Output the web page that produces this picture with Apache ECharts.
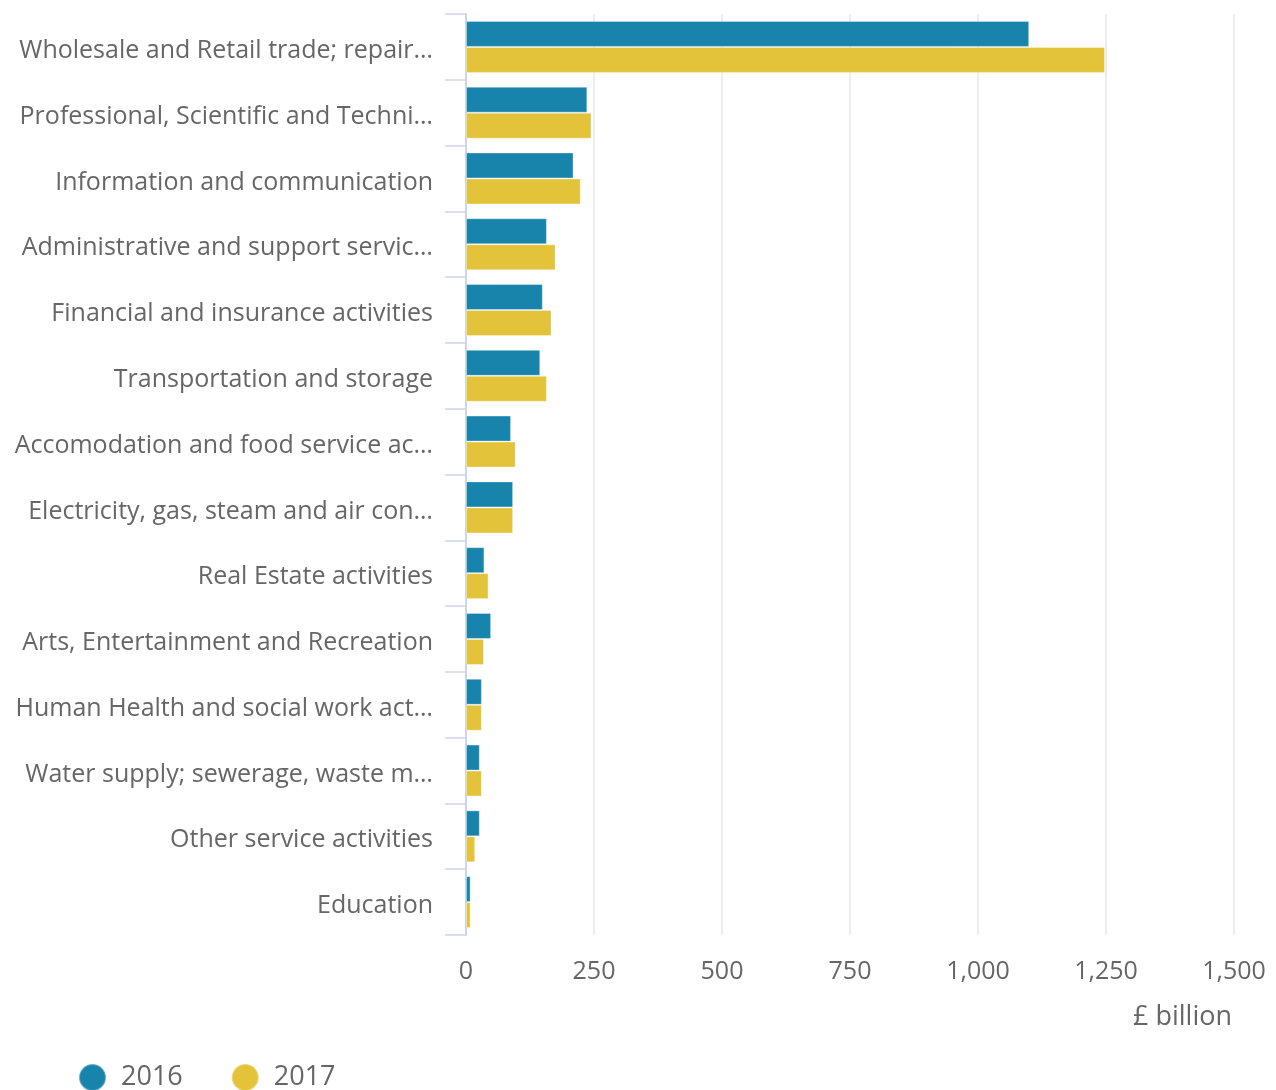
<!DOCTYPE html>
<html>
<head>
<meta charset="utf-8">
<script src="https://cdn.jsdelivr.net/npm/echarts@6/dist/echarts.min.js"></script>
<style>
  html, body { margin: 0; padding: 0; background: #fff; }
  #chart { width: 1276px; height: 1090px; }
</style>
</head>
<body>
<div id="chart"></div>
<script>
// Industry sections, top to bottom
const industries = [
  'Wholesale and Retail trade; repair of motor vehicles and motorcycles',
  'Professional, Scientific and Technical activities',
  'Information and communication',
  'Administrative and support service activities',
  'Financial and insurance activities',
  'Transportation and storage',
  'Accomodation and food service activities',
  'Electricity, gas, steam and air conditioning supply',
  'Real Estate activities',
  'Arts, Entertainment and Recreation',
  'Human Health and social work activities',
  'Water supply; sewerage, waste management and remediation activities',
  'Other service activities',
  'Education'
];

// Values in £ billion
const values2016 = [1100, 237, 210, 158, 150, 145, 88, 92, 36, 49, 31, 27, 27, 9];
const values2017 = [1248, 245, 224, 175, 167, 158, 97, 92, 44, 35, 31, 31, 18, 9];

const xTicks = { min: 0, max: 1500, interval: 250 };

const FONT = '"Open Sans", "Noto Sans", sans-serif';
const TEXT = '#666666';
const AXIS = '#ccd6eb';

const chart = echarts.init(document.getElementById('chart'), null, { renderer: 'canvas' });

chart.setOption({
  animation: false,
  textStyle: { fontFamily: FONT },
  grid: { left: 466, right: 42, top: 14, bottom: 155, containLabel: false },
  title: {
    text: '£ billion',
    right: 44,
    top: 1004,
    padding: 0,
    textStyle: { fontFamily: FONT, fontSize: 27, fontWeight: 'normal', color: TEXT }
  },
  legend: {
    left: 78,
    top: 1063,
    padding: 0,
    icon: 'circle',
    itemWidth: 27,
    itemHeight: 27,
    itemGap: 48,
    textStyle: { fontFamily: FONT, fontSize: 27, color: TEXT, padding: [3, 0, 0, 10] },
    data: ['2016', '2017']
  },
  xAxis: {
    type: 'value',
    min: xTicks.min,
    max: xTicks.max,
    interval: xTicks.interval,
    axisLine: { show: false },
    axisTick: { show: false },
    axisLabel: {
      fontFamily: FONT, fontSize: 25, color: TEXT, margin: 24,
      formatter: v => v.toLocaleString('en-GB')
    },
    splitLine: { show: true, lineStyle: { color: '#e6e6e6', width: 1.5 } }
  },
  yAxis: {
    type: 'category',
    inverse: true,
    data: industries,
    axisLine: { show: true, lineStyle: { color: AXIS, width: 2 } },
    axisTick: { show: true, length: 21, lineStyle: { color: AXIS, width: 1.5 } },
    axisLabel: {
      fontFamily: FONT, fontSize: 25, color: TEXT, margin: 33,
      verticalAlign: 'top', lineHeight: 8,
      width: 421, overflow: 'truncate', ellipsis: '…'
    },
    splitLine: { show: false }
  },
  series: [
    {
      name: '2016',
      type: 'bar',
      data: values2016,
      barGap: '0%',
      barCategoryGap: '21%',
      itemStyle: { color: '#1984ab', borderColor: 'rgba(255,255,255,0.35)', borderWidth: 1 }
    },
    {
      name: '2017',
      type: 'bar',
      data: values2017,
      barGap: '0%',
      barCategoryGap: '21%',
      itemStyle: { color: '#e3c339', borderColor: 'rgba(255,255,255,0.35)', borderWidth: 1 }
    }
  ]
});
</script>
</body>
</html>
